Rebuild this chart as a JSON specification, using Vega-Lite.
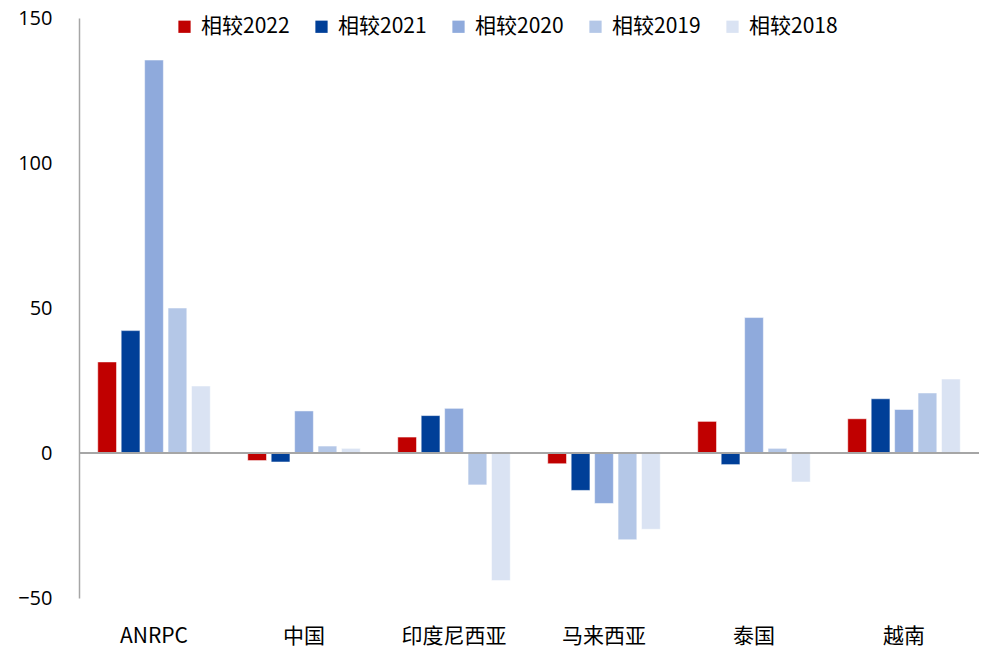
{
  "$schema": "https://vega.github.io/schema/vega-lite/v6.json",
  "autosize": {"type": "none"},
  "width": 900,
  "height": 580,
  "padding": {"left": 79, "top": 18, "right": 3, "bottom": 50},
  "background": "white",
  "config": {
    "view": {"stroke": null},
    "font": "Noto Sans CJK SC"
  },
  "data": {
    "values": [
      {"region": "ANRPC", "series": "相较2022", "value": 31.4},
      {"region": "ANRPC", "series": "相较2021", "value": 42.2},
      {"region": "ANRPC", "series": "相较2020", "value": 135.5},
      {"region": "ANRPC", "series": "相较2019", "value": 50},
      {"region": "ANRPC", "series": "相较2018", "value": 23.1},
      {"region": "中国", "series": "相较2022", "value": -2.6},
      {"region": "中国", "series": "相较2021", "value": -3.1},
      {"region": "中国", "series": "相较2020", "value": 14.5},
      {"region": "中国", "series": "相较2019", "value": 2.4},
      {"region": "中国", "series": "相较2018", "value": 1.6},
      {"region": "印度尼西亚", "series": "相较2022", "value": 5.5},
      {"region": "印度尼西亚", "series": "相较2021", "value": 12.9},
      {"region": "印度尼西亚", "series": "相较2020", "value": 15.4},
      {"region": "印度尼西亚", "series": "相较2019", "value": -11},
      {"region": "印度尼西亚", "series": "相较2018", "value": -44},
      {"region": "马来西亚", "series": "相较2022", "value": -3.7},
      {"region": "马来西亚", "series": "相较2021", "value": -12.9},
      {"region": "马来西亚", "series": "相较2020", "value": -17.4},
      {"region": "马来西亚", "series": "相较2019", "value": -29.9},
      {"region": "马来西亚", "series": "相较2018", "value": -26.3},
      {"region": "泰国", "series": "相较2022", "value": 10.9},
      {"region": "泰国", "series": "相较2021", "value": -4},
      {"region": "泰国", "series": "相较2020", "value": 46.7},
      {"region": "泰国", "series": "相较2019", "value": 1.6},
      {"region": "泰国", "series": "相较2018", "value": -10},
      {"region": "越南", "series": "相较2022", "value": 11.8},
      {"region": "越南", "series": "相较2021", "value": 18.7},
      {"region": "越南", "series": "相较2020", "value": 15},
      {"region": "越南", "series": "相较2019", "value": 20.7},
      {"region": "越南", "series": "相较2018", "value": 25.5}
    ]
  },
  "layer": [
    {
      "mark": {"type": "bar", "stroke": "white", "strokeOpacity": 0.5, "strokeWidth": 1},
      "encoding": {
        "x": {
          "field": "region",
          "type": "nominal",
          "sort": ["ANRPC", "中国", "印度尼西亚", "马来西亚", "泰国", "越南"],
          "scale": {"paddingInner": 0.25, "paddingOuter": 0.125},
          "axis": {
            "title": null,
            "domain": false,
            "ticks": false,
            "labelAngle": 0,
            "labelFontSize": 21,
            "labelColor": "#000000",
            "labelPadding": 27,
            "labelFont": "Noto Sans CJK SC"
          }
        },
        "xOffset": {
          "field": "series",
          "type": "nominal",
          "sort": ["相较2022", "相较2021", "相较2020", "相较2019", "相较2018"],
          "scale": {"paddingInner": 0.2}
        },
        "y": {
          "field": "value",
          "type": "quantitative",
          "scale": {"domain": [-50, 150], "nice": false},
          "axis": {
            "title": null,
            "values": [-50, 0, 50, 100, 150],
            "grid": false,
            "ticks": false,
            "domain": true,
            "domainColor": "#A6A6A6",
            "domainWidth": 1.5,
            "labelFontSize": 20,
            "labelColor": "#000000",
            "labelPadding": 27,
            "labelFont": "Open Sans"
          }
        },
        "color": {
          "field": "series",
          "type": "nominal",
          "sort": ["相较2022", "相较2021", "相较2020", "相较2019", "相较2018"],
          "scale": {
            "domain": ["相较2022", "相较2021", "相较2020", "相较2019", "相较2018"],
            "range": ["#C00000", "#003F98", "#8FAADC", "#B4C7E7", "#DAE3F3"]
          },
          "legend": {
            "title": null,
            "orient": "none",
            "direction": "horizontal",
            "legendX": 95,
            "legendY": -2,
            "symbolType": "square",
            "symbolSize": 150,
            "symbolStrokeWidth": 0,
            "symbolOpacity": 1,
            "labelFontSize": 21,
            "labelColor": "#000000",
            "labelFont": "Noto Sans CJK SC",
            "labelOffset": 6,
            "columnPadding": 21
          }
        }
      }
    },
    {
      "mark": {"type": "rule", "color": "#A6A6A6", "strokeWidth": 2},
      "encoding": {"y": {"datum": 0, "type": "quantitative"}}
    }
  ]
}
